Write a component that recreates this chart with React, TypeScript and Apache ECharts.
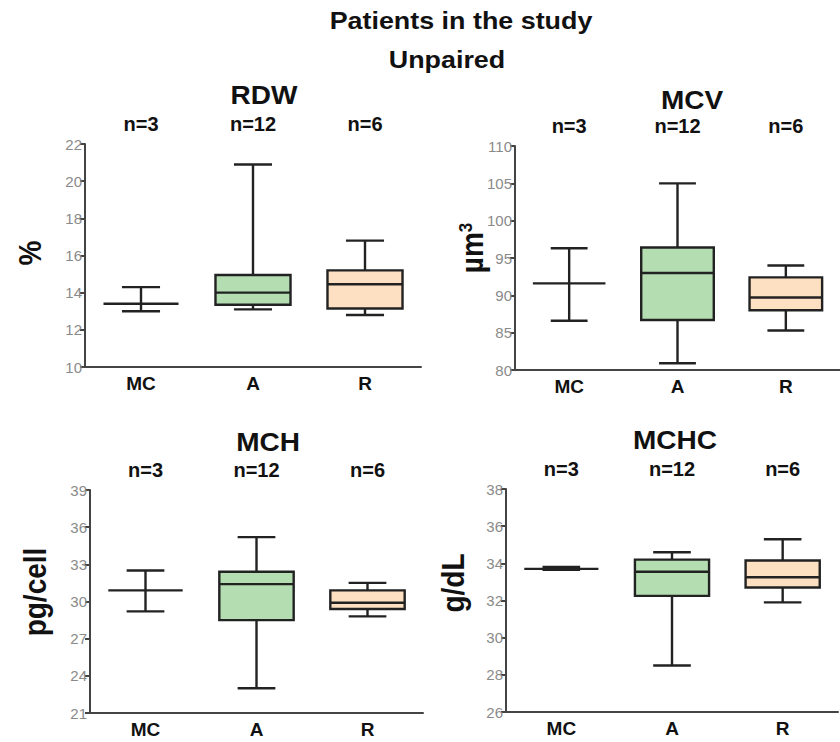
import React, { useEffect, useRef } from "react";
import * as echarts from "echarts";

const categories = ["MC", "A", "R"];
const nLabels = ["n=3", "n=12", "n=6"];

// [min, q1, median, q3, max]
const rdwMC = [13.0, 13.4, 13.4, 13.4, 14.3];
const rdwA = [13.1, 13.35, 14.0, 14.95, 20.9];
const rdwR = [12.8, 13.15, 14.45, 15.2, 16.8];

const mcvMC = [86.6, 91.6, 91.6, 91.6, 96.3];
const mcvA = [80.9, 86.7, 93.0, 96.4, 105.0];
const mcvR = [85.3, 88.0, 89.7, 92.4, 94.0];

const mchMC = [29.2, 30.9, 30.9, 30.9, 32.5];
const mchA = [23.0, 28.5, 31.4, 32.4, 35.2];
const mchR = [28.8, 29.4, 29.9, 30.9, 31.5];

const mchcMC = [33.65, 33.7, 33.7, 33.7, 33.8];
const mchcA = [28.5, 32.25, 33.55, 34.2, 34.6];
const mchcR = [31.9, 32.7, 33.25, 34.15, 35.3];

// [min, max, interval]
const rdwAxis = [10, 22, 2];
const mcvAxis = [80, 110, 5];
const mchAxis = [21, 39, 3];
const mchcAxis = [26, 38, 2];

const panelTitles = ["RDW", "MCV", "MCH", "MCHC"];
const unitTitles = ["%", "{a|µm}{b|3}", "pg/cell", "g/dL"];
const mainTitle = "Patients in the study";
const subTitle = "Unpaired";

const FONT = "Liberation Sans, Arial, sans-serif";
const INK = "#222";
const fills = ["none", "#b4deb2", "#fde0c2"];

const panels = [
  { data: [rdwMC, rdwA, rdwR], axis: rdwAxis },
  { data: [mcvMC, mcvA, mcvR], axis: mcvAxis },
  { data: [mchMC, mchA, mchR], axis: mchAxis },
  { data: [mchcMC, mchcA, mchcR], axis: mchcAxis },
];

const grids = [
  { left: 85, top: 144, width: 336, height: 223 },
  { left: 515, top: 146, width: 333, height: 224 },
  { left: 90, top: 490, width: 333, height: 223 },
  { left: 506, top: 489, width: 332, height: 223 },
];

const titlePos = [
  [264, 96],
  [692, 101],
  [268, 443],
  [675, 441],
];
const unitPos = [
  [30, 253],
  [472, 248],
  [35, 592],
  [453, 583],
];

function renderBox(params: any, api: any) {
  const cat = api.value(0);
  const mn = api.value(1);
  const q1 = api.value(2);
  const med = api.value(3);
  const q3 = api.value(4);
  const mx = api.value(5);
  const band = api.size([1, 0])[0];
  const bw = band * 0.67;
  const cw = band * 0.34;
  const pMin = api.coord([cat, mn]);
  const pMax = api.coord([cat, mx]);
  const pQ1 = api.coord([cat, q1]);
  const pQ3 = api.coord([cat, q3]);
  const pMed = api.coord([cat, med]);
  const x = pMin[0];
  const lineStyle = { stroke: INK, lineWidth: 2.4, fill: "none" };
  const children: any[] = [
    { type: "line", shape: { x1: x, y1: pMin[1], x2: x, y2: pMax[1] }, style: lineStyle },
    { type: "line", shape: { x1: x - cw / 2, y1: pMin[1], x2: x + cw / 2, y2: pMin[1] }, style: lineStyle },
    { type: "line", shape: { x1: x - cw / 2, y1: pMax[1], x2: x + cw / 2, y2: pMax[1] }, style: lineStyle },
  ];
  const fill = fills[params.dataIndex];
  if (q3 > q1) {
    children.push({
      type: "rect",
      shape: { x: x - bw / 2, y: pQ3[1], width: bw, height: pQ1[1] - pQ3[1] },
      style: { fill: fill, stroke: INK, lineWidth: 2.4 },
    });
  }
  children.push({
    type: "line",
    shape: { x1: x - bw / 2, y1: pMed[1], x2: x + bw / 2, y2: pMed[1] },
    style: lineStyle,
  });
  return { type: "group", children };
}

export default function App() {
  const ref = useRef<HTMLDivElement>(null);
  useEffect(() => {
    if (!ref.current) return;
    const chart = echarts.init(ref.current, null, { renderer: "svg" });
    const xAxis: any[] = [];
    const yAxis: any[] = [];
    const series: any[] = [];
    panels.forEach((p, i) => {
      xAxis.push({
        type: "category",
        gridIndex: i,
        data: categories,
        axisLine: { lineStyle: { color: "#444", width: 2 } },
        axisTick: { alignWithLabel: true, length: 5, lineStyle: { color: "#444", width: 2 } },
        axisLabel: { color: "#111", fontFamily: FONT, fontWeight: "bold", fontSize: 19, margin: 7 },
      });
      yAxis.push({
        type: "value",
        gridIndex: i,
        min: p.axis[0],
        max: p.axis[1],
        interval: p.axis[2],
        splitLine: { show: false },
        axisLine: { show: true, lineStyle: { color: "#444", width: 2 } },
        axisTick: { show: true, length: 5, lineStyle: { color: "#444", width: 2 } },
        axisLabel: { color: "#8a8a8a", fontFamily: FONT, fontSize: 15, margin: 3 },
      });
      series.push({
        type: "custom",
        xAxisIndex: i,
        yAxisIndex: i,
        renderItem: renderBox,
        encode: { x: 0, y: [1, 2, 3, 4, 5] },
        data: p.data.map((d, k) => [k, ...d]),
      });
    });
    panels.forEach((p, i) => {
      xAxis.push({
        type: "category",
        gridIndex: i,
        position: "top",
        data: nLabels,
        axisLine: { show: false },
        axisTick: { show: false },
        axisLabel: { color: "#111", fontFamily: FONT, fontWeight: "bold", fontSize: 20, margin: 10 },
      });
    });
    const textEl = (t: string, x: number, y: number, size: number, extra: any = {}) => ({
      type: "text",
      x,
      y,
      scaleX: 1.12,
      ...extra,
      style: {
        text: t,
        fill: "#111",
        fontFamily: FONT,
        fontWeight: "bold",
        fontSize: size,
        align: "center",
        verticalAlign: "middle",
        textAlign: "center",
        textVerticalAlign: "middle",
        ...(extra.style || {}),
      },
    });
    const graphics: any[] = [
      textEl(mainTitle, 461, 21, 24),
      textEl(subTitle, 447, 60, 24),
    ];
    panelTitles.forEach((t, i) => graphics.push(textEl(t, titlePos[i][0], titlePos[i][1], 25)));
    unitTitles.forEach((t, i) =>
      graphics.push(
        textEl(t, unitPos[i][0], unitPos[i][1], 28, {
          rotation: Math.PI / 2,
          scaleX: 1,
          scaleY: 1.1,
          style: {
            rich: {
              a: { fontFamily: FONT, fontWeight: "bold", fontSize: 28, fill: "#111", color: "#111" },
              b: { fontFamily: FONT, fontWeight: "bold", fontSize: 17, fill: "#111", color: "#111", verticalAlign: "top", padding: [0, 0, 10, 0] },
            },
          },
        })
      )
    );
    chart.setOption({
      animation: false,
      backgroundColor: "#fff",
      grid: grids.map((g) => ({ ...g, containLabel: false })),
      xAxis,
      yAxis,
      series,
      graphic: graphics,
    });
    return () => chart.dispose();
  }, []);
  return (
    <div
      ref={ref}
      style={{ position: "fixed", left: 0, top: 0, width: 840, height: 742, background: "#fff" }}
    />
  );
}
